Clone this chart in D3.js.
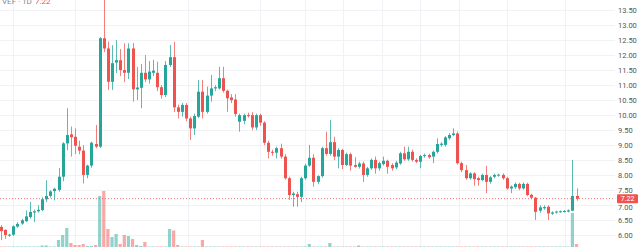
<!DOCTYPE html>
<html><head><meta charset="utf-8">
<script src="https://cdn.jsdelivr.net/npm/d3@7/dist/d3.min.js"></script>
<style>html,body{margin:0;padding:0;background:#fff;overflow:hidden}svg{display:block}</style>
</head><body><svg id="c" width="640" height="247"></svg>
<script>
const opens = [6.28,6.18,5.99,6.02,6.29,6.39,6.47,6.61,6.76,6.80,6.84,7.20,7.31,7.47,7.51,7.95,9.06,9.36,9.28,8.95,
8.82,8.01,8.32,9.04,8.95,12.56,12.22,11.11,11.75,11.83,11.50,11.41,12.22,10.86,10.91,11.41,11.19,11.41,11.41,10.93,
10.67,11.67,11.93,10.26,10.11,10.34,9.89,9.56,9.95,10.78,10.11,10.65,10.89,10.89,11.23,10.81,10.59,10.52,9.78,9.81,
10.00,10.00,9.59,10.00,9.75,9.08,8.78,8.75,8.90,8.62,7.90,7.34,7.37,7.28,7.90,8.32,8.58,7.78,7.97,8.90,
8.71,9.10,8.62,8.84,8.34,8.70,8.34,8.28,8.39,8.01,8.23,8.51,8.23,8.37,8.48,8.34,8.26,8.39,8.73,8.53,
8.78,8.51,8.45,8.64,8.67,8.62,8.78,9.01,9.01,9.23,9.34,9.39,8.40,8.17,7.90,8.06,7.90,7.84,8.01,7.78,
7.95,8.00,8.01,7.90,7.56,7.60,7.71,7.56,7.71,7.35,7.25,6.82,6.90,6.95,6.72,6.76,6.78,6.79,6.79,6.82,7.31];
const highs = [6.34,6.20,6.05,6.33,6.44,6.55,6.83,7.11,6.86,7.00,7.27,7.83,7.50,7.58,8.24,9.10,10.23,9.62,9.56,9.15,
9.00,8.35,9.12,9.67,12.60,13.90,12.45,12.33,12.50,12.20,12.39,12.39,12.40,11.60,11.70,12.00,11.80,11.84,11.78,11.00,
11.80,12.33,12.44,10.35,10.40,10.40,9.95,10.05,11.17,11.17,10.95,11.34,11.00,11.61,11.61,10.85,10.70,10.70,10.05,10.05,
10.08,10.10,10.05,10.05,9.80,9.15,8.85,8.95,9.05,8.70,7.95,7.45,7.45,7.95,8.38,9.01,8.70,8.00,8.95,9.45,
9.84,9.28,8.90,8.88,8.75,8.75,8.60,8.45,8.45,8.28,8.56,8.62,8.45,8.62,8.52,8.40,8.48,8.78,8.95,8.95,
8.85,8.56,8.68,8.72,8.72,8.82,9.23,9.10,9.30,9.40,9.56,9.45,8.45,8.34,8.10,8.10,7.95,8.05,8.31,7.97,
8.05,8.05,8.06,7.95,7.66,7.76,7.75,7.76,7.75,7.38,7.28,7.00,7.00,7.00,6.80,6.82,6.83,6.84,6.86,8.51,7.56];
const lows = [5.84,5.88,5.95,5.98,6.25,6.35,6.44,6.55,6.44,6.75,6.80,7.11,7.25,7.16,7.45,7.80,8.83,8.62,8.70,8.70,
7.73,7.90,8.25,8.90,8.90,12.10,10.84,10.84,11.40,11.30,11.10,11.20,10.45,10.50,10.23,11.10,11.05,11.30,10.80,10.55,
10.60,11.60,10.10,9.89,9.95,9.80,9.17,9.34,9.90,9.89,10.05,10.45,10.80,10.85,10.75,10.11,10.40,9.95,9.45,9.70,
9.92,9.50,9.50,9.65,9.00,8.56,8.65,8.56,8.55,7.85,7.18,6.95,6.95,7.10,7.85,8.28,7.62,7.70,7.92,8.65,
8.65,8.50,8.23,8.20,8.30,8.15,8.25,8.22,7.78,7.95,8.18,8.05,8.15,8.32,8.05,8.15,8.20,8.35,8.48,8.48,
8.45,8.40,8.23,8.58,8.55,8.40,8.72,8.95,8.95,9.18,9.30,8.35,8.10,7.85,7.85,7.65,7.65,7.80,7.40,7.72,
7.90,7.95,7.85,7.52,7.40,7.55,7.50,7.52,7.30,7.20,6.51,6.75,6.85,6.51,6.68,6.72,6.75,6.76,6.76,6.80,7.15];
const closes = [6.14,6.01,6.02,6.30,6.38,6.50,6.63,6.78,6.80,6.85,7.20,7.31,7.46,7.55,7.95,9.06,9.34,9.26,8.98,8.82,
8.01,8.32,9.08,8.95,12.56,12.22,11.11,11.73,11.83,11.50,11.41,12.22,10.86,10.92,11.41,11.19,11.45,11.48,10.93,10.67,
11.67,11.93,10.26,10.11,10.34,9.89,9.56,9.97,10.78,10.11,10.65,10.89,10.93,11.23,10.81,10.56,10.50,10.04,10.00,10.00,
9.98,9.59,10.00,9.75,9.08,8.78,8.75,8.90,8.62,7.90,7.34,7.39,7.28,7.90,8.32,8.58,7.78,7.97,8.90,8.71,
9.10,8.62,8.84,8.34,8.70,8.32,8.28,8.39,8.01,8.23,8.51,8.23,8.40,8.48,8.28,8.23,8.42,8.73,8.53,8.78,
8.51,8.45,8.64,8.67,8.60,8.78,9.04,9.05,9.26,9.34,9.39,8.40,8.17,7.90,8.06,7.87,7.84,8.01,7.78,7.93,
8.01,8.02,7.90,7.56,7.62,7.71,7.56,7.71,7.34,7.25,6.78,6.93,6.94,6.73,6.76,6.79,6.80,6.81,6.83,7.31,7.22];
const volumes = [0.5,0.5,0.5,0.5,0.5,0.5,0.5,0.5,0.5,0.5,
1.5,1.5,0.5,0.5,7,12,19,4,2,2,
3,1,1,2,51,56,18,10,13,3,
12,11,8,2,1,5,0.5,0.5,0.5,0.5,
0.5,18,16.5,2,0.5,0.5,0.5,0.5,0.5,7,
0.5,0.5,0.5,0.5,0.5,0.5,0.5,0.5,0.5,0.5,
0.5,0.5,0.5,0.5,0.5,0.5,0.5,0.5,0.5,0.5,
0.5,0.5,0.5,0.5,0.5,3,0.5,0.5,0.5,0.5,
4,0.5,0.5,0.5,0.5,0.5,0.5,1.5,0.5,0.5,
0.5,0.5,0.5,0.5,0.5,0.5,0.5,0.5,0.5,0.5,
0.5,0.5,0.5,0.5,0.5,0.5,0.5,0.5,0.5,0.5,
0.5,0.5,0.5,0.5,0.5,0.5,0.5,0.5,0.5,0.5,
0.5,0.5,0.5,0.5,0.5,0.5,0.5,0.5,0.5,0.5,
0.5,0.5,0.5,0.5,0.5,0.5,0.5,0.5,0.5,34,
3];
const priceTicks = [6.0,6.5,7.0,7.5,8.0,8.5,9.0,9.5,10.0,10.5,11.0,11.5,12.0,12.5,13.0,13.5];
const timeGridIdx = [2.9,18,45.5,63,74,83.3,92.8,102,111.3,123.2,137.3];
const lastPrice = 7.22;
const legendName = "VEF · 1D";
const legendPrice = "7.22";

const UP = "#26a69a", DOWN = "#ef5350";
const svg = d3.select("#c");
const W = 640, H = 247, plotRight = 615;
const n = opens.length;
const x = d3.scaleLinear().domain([0, n - 1]).range([1, 576.5]);
const y = d3.scaleLinear().domain([6.0, 13.5]).range([235.3, 10]);
const yv = d3.scaleLinear().domain([0, 100]).range([247, 147]);
const data = d3.range(n).map(i => ({i, o: opens[i], h: highs[i], l: lows[i], c: closes[i], v: volumes[i]}));

// grid
const g = svg.append("g");
g.selectAll("line.h").data(priceTicks).join("line")
  .attr("x1", 0).attr("x2", plotRight).attr("y1", d => Math.round(y(d)) + 0.5).attr("y2", d => Math.round(y(d)) + 0.5)
  .attr("stroke", "#f0f2f6").attr("stroke-width", 1);
g.selectAll("line.v").data(timeGridIdx).join("line")
  .attr("x1", d => Math.round(x(d)) + 0.5).attr("x2", d => Math.round(x(d)) + 0.5).attr("y1", 0).attr("y2", H)
  .attr("stroke", "#f0f2f6").attr("stroke-width", 1);

// volume
svg.append("g").selectAll("rect").data(data).join("rect")
  .attr("x", d => x(d.i) - 1.6).attr("width", 3.2)
  .attr("y", d => yv(d.v)).attr("height", d => yv(0) - yv(d.v))
  .attr("fill", d => d.c >= d.o ? UP : DOWN).attr("fill-opacity", 0.5);

// price line
svg.append("line").attr("x1", 0).attr("x2", plotRight).attr("y1", y(lastPrice)).attr("y2", y(lastPrice))
  .attr("stroke", DOWN).attr("stroke-width", 1).attr("stroke-dasharray", "1,2").attr("stroke-opacity", 0.8);

// candles
const cg = svg.append("g");
cg.selectAll("line").data(data).join("line")
  .attr("x1", d => Math.round(x(d.i)) + 0.5).attr("x2", d => Math.round(x(d.i)) + 0.5)
  .attr("y1", d => y(d.h)).attr("y2", d => y(d.l))
  .attr("stroke", d => d.c >= d.o ? UP : DOWN).attr("stroke-opacity", 0.75).attr("stroke-width", 1);
cg.selectAll("rect").data(data).join("rect")
  .attr("x", d => Math.round(x(d.i)) - 1).attr("width", 3)
  .attr("y", d => y(Math.max(d.o, d.c)))
  .attr("height", d => Math.max(1, Math.abs(y(d.o) - y(d.c))))
  .attr("fill", d => d.c >= d.o ? UP : DOWN);

// price scale
const ax = svg.append("g").attr("transform", `translate(${plotRight},0)`);
ax.append("rect").attr("x", 0).attr("y", 0).attr("width", W - plotRight).attr("height", H).attr("fill", "#fff");
const axis = d3.axisRight(y).tickValues(priceTicks).tickFormat(d3.format(".2f")).tickSize(0).tickPadding(3);
ax.call(axis);
ax.select(".domain").remove();
ax.selectAll("text").attr("font-family", "Roboto, 'Noto Sans', sans-serif").attr("font-size", 7.5).attr("fill", "#555");
ax.selectAll(".tick").filter(d => d === 7.0).select("text").attr("dy", "0.55em");

// last price label
ax.append("rect").attr("x", 2).attr("y", y(lastPrice) - 4.5).attr("width", 21).attr("height", 9).attr("rx", 1).attr("fill", DOWN);
ax.append("text").attr("x", 12.5).attr("y", y(lastPrice)).attr("dy", "0.35em").attr("text-anchor", "middle")
  .attr("font-family", "Roboto, 'Noto Sans', sans-serif").attr("font-size", 7).attr("fill", "#fff").text(d3.format(".2f")(lastPrice));

// legend (cut at top, as in the reference)
svg.append("text").attr("x", 2).attr("y", 3.5).attr("font-family", "Roboto, sans-serif").attr("font-size", 8)
  .attr("fill", "#888").text(legendName);
svg.append("text").attr("x", 35).attr("y", 3.5).attr("font-family", "Roboto, sans-serif").attr("font-size", 8)
  .attr("fill", DOWN).text(legendPrice);
</script></body></html>
